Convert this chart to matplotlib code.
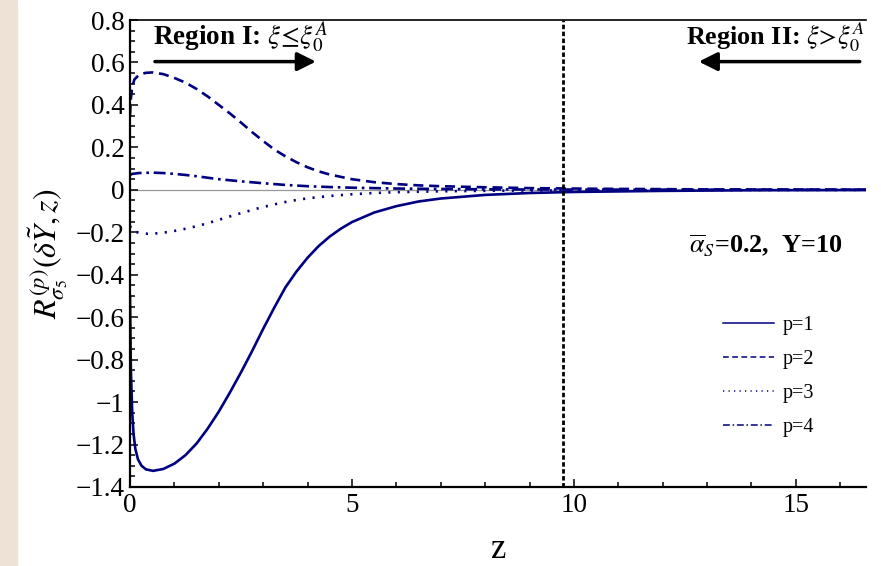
import matplotlib
matplotlib.use("Agg")
import matplotlib.pyplot as plt
from matplotlib.lines import Line2D
from matplotlib.patches import Rectangle
from matplotlib.ticker import MultipleLocator, FuncFormatter

plt.rcParams["font.family"] = ["Liberation Serif", "DejaVu Serif"]
plt.rcParams["mathtext.fontset"] = "stix"

# values
Z_P1 = [0, 0.02, 0.05, 0.08, 0.12, 0.18, 0.26, 0.36, 0.52, 0.75, 1.0, 1.25, 1.5,
        1.75, 2.0, 2.25, 2.5, 2.75, 3.0, 3.25, 3.5, 3.75, 4.0, 4.25, 4.5, 4.75,
        5.0, 5.5, 6.0, 6.5, 7.0, 8.0, 9.0, 10, 12, 14, 16.6]
R_P1 = [-0.5, -0.85, -1.05, -1.15, -1.22, -1.27, -1.30, -1.317, -1.324, -1.315,
        -1.29, -1.25, -1.195, -1.125, -1.045, -0.955, -0.86, -0.76, -0.655,
        -0.555, -0.46, -0.385, -0.32, -0.265, -0.22, -0.183, -0.152, -0.107,
        -0.077, -0.055, -0.041, -0.024, -0.015, -0.01, -0.005, -0.002, -0.001]

Z_P2 = [0, 0.02, 0.05, 0.1, 0.2, 0.35, 0.5, 0.75, 1.0, 1.25, 1.5, 1.75, 2.0, 2.25,
        2.5, 2.75, 3.0, 3.25, 3.5, 3.75, 4.0, 4.25, 4.5, 5.0, 5.5, 6.0, 6.5, 7.0,
        8.0, 9.0, 10.5, 13, 16.6]
R_P2 = [0.35, 0.43, 0.487, 0.52, 0.541, 0.551, 0.553, 0.545, 0.527, 0.505, 0.475,
        0.44, 0.40, 0.36, 0.317, 0.272, 0.23, 0.19, 0.158, 0.13, 0.106, 0.087,
        0.072, 0.05, 0.036, 0.027, 0.021, 0.017, 0.012, 0.008, 0.005, 0.002, 0.001]

Z_P3 = [0, 0.05, 0.11, 0.25, 0.4, 0.6, 0.85, 1.1, 1.35, 1.6, 1.85, 2.1, 2.35, 2.6,
        2.85, 3.1, 3.35, 3.6, 4.0, 4.5, 5.0, 5.5, 6.0, 7.0, 8.26, 10.5, 13, 16.6]
R_P3 = [-0.17, -0.19, -0.197, -0.205, -0.207, -0.205, -0.199, -0.19, -0.179,
        -0.166, -0.151, -0.135, -0.119, -0.104, -0.089, -0.076, -0.064, -0.053,
        -0.04, -0.029, -0.021, -0.015, -0.011, -0.007, -0.004, -0.002, -0.001, 0]

Z_P4 = [0, 0.05, 0.2, 0.5, 0.75, 1.0, 1.25, 1.5, 1.75, 2.0, 2.5, 3.0, 3.5, 4.0,
        4.5, 5.0, 6.0, 7.0, 8.26, 10.5, 13, 16.6]
R_P4 = [0.07, 0.075, 0.079, 0.081, 0.079, 0.075, 0.07, 0.064, 0.057, 0.05, 0.04,
        0.031, 0.023, 0.017, 0.013, 0.01, 0.006, 0.004, 0.002, 0.001, 0.0005, 0]

LABELS = ["p=1", "p=2", "p=3", "p=4"]
Z_BOUNDARY = 9.75
NAVY = "#000080"
DASHES = [None, (3.8, 2.2), (0.8, 2.8), (4.5, 1.8, 1.0, 1.8)]

fig = plt.figure(figsize=(8.81, 5.66), dpi=100)
fig.patches.append(Rectangle((0, 0), 17 / 881, 1, transform=fig.transFigure,
                             color="#eee2d6", zorder=0))
ax = fig.add_axes([130 / 881, 79 / 566, 736 / 881, 467 / 566])

series = [(Z_P1, R_P1), (Z_P2, R_P2), (Z_P3, R_P3), (Z_P4, R_P4)]
handles = []
for (zs, rs), lab, d in zip(series, LABELS, DASHES):
    line, = ax.plot(zs, rs, color=NAVY, lw=1.9)
    if d is not None:
        line.set_dashes(d)
    h = Line2D([], [], color=NAVY, lw=1.1)
    if d is not None:
        h.set_dashes(d)
    handles.append(h)

ax.axhline(0, color="#999999", lw=0.9, zorder=1)
ax.axvline(Z_BOUNDARY, color="k", lw=2.0, dashes=(1.6, 0.9))

ax.set_xlim(0, 16.58)
ax.set_ylim(-1.4, 0.8)

ax.xaxis.set_major_locator(MultipleLocator(5))
ax.xaxis.set_minor_locator(MultipleLocator(1))
ax.yaxis.set_major_locator(MultipleLocator(0.2))
ax.yaxis.set_minor_locator(MultipleLocator(0.05))
ax.yaxis.set_major_formatter(FuncFormatter(lambda v, p: ("%g" % round(v, 2)).replace("-", "\u2212")))
ax.tick_params(which="both", direction="in", top=False, right=False,
               labelsize=19.5, width=1.1, pad=4)
ax.tick_params(which="major", length=6)
ax.tick_params(which="minor", length=3.5)

ax.spines["right"].set_visible(False)
ax.spines["left"].set_linewidth(1.6)
ax.spines["bottom"].set_linewidth(1.6)
ax.spines["top"].set_linewidth(1.2)

ax.set_xlabel("z", fontsize=25, labelpad=11)
ax.set_ylabel(r"$R^{(p)}_{\sigma_5}(\delta\tilde{Y},z)$", fontsize=23, labelpad=4)

ax.text(0.52, 0.717, r"Region I: $\xi\!\leq\!\xi_0^A$", fontsize=19.5,
        fontweight="bold", va="center", ha="left")
ax.annotate("", xy=(4.25, 0.604), xytext=(0.5, 0.604),
            arrowprops=dict(arrowstyle="-|>", lw=2.5, color="k", mutation_scale=28))
ax.text(16.55, 0.717, r"Region II: $\xi\!>\!\xi_0^A$", fontsize=18.8,
        fontweight="bold", va="center", ha="right")
ax.annotate("", xy=(12.75, 0.604), xytext=(16.5, 0.604),
            arrowprops=dict(arrowstyle="-|>", lw=2.5, color="k", mutation_scale=28))

ax.text(12.6, -0.26, r"$\overline{\alpha}_S$=0.2,  Y=10", fontsize=18.8,
        fontweight="bold", va="center", ha="left")

ax.legend(handles, LABELS, loc="upper left", bbox_to_anchor=(0.806, 0.366),
          frameon=False, fontsize=14.5, handlelength=2.5, labelspacing=0.73,
          handletextpad=0.45, borderpad=0, borderaxespad=0)

fig.savefig("out.png", dpi=100)
